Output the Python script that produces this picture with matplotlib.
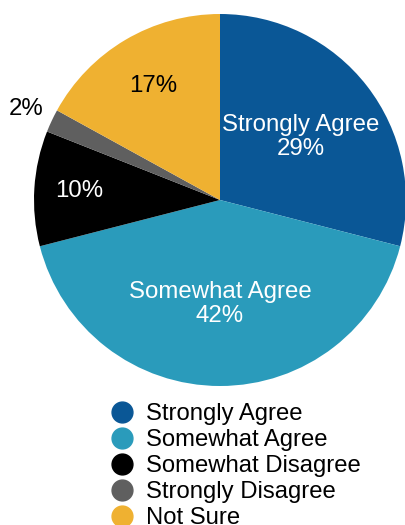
import numpy as np
import matplotlib.pyplot as plt
from matplotlib.lines import Line2D

plt.rcParams['font.family'] = ['Liberation Sans', 'DejaVu Sans']

categories = ['Strongly Agree', 'Somewhat Agree', 'Somewhat Disagree', 'Strongly Disagree', 'Not Sure']
shares = [29, 42, 10, 2, 17]
colors = ['#0a5796', '#2a9bbb', '#000000', '#5f5f5f', '#efb131']

# label placement per slice (fraction of radius) and whether the name is shown
label_dist = [0.55, 0.56, 0.76, 1.15, 0.71]
show_name = [True, True, False, False, False]
label_color = ['white', 'white', 'white', 'black', 'black']

fig = plt.figure(figsize=(4.06, 5.25), dpi=100)
ax = fig.add_axes([0, 0, 1, 1])

cx, cy, r = 220, 325, 186
wedges, _ = ax.pie(shares, colors=colors, startangle=90, counterclock=False,
                   center=(cx, cy), radius=r, frame=True,
                   wedgeprops=dict(linewidth=0))
ax.set_xlim(0, 406)
ax.set_ylim(0, 525)
ax.axis('off')

for w, name, val, d, sn, tc in zip(wedges, categories, shares, label_dist, show_name, label_color):
    mid = np.deg2rad((w.theta1 + w.theta2) / 2)
    x = cx + d * r * np.cos(mid)
    y = cy + d * r * np.sin(mid)
    txt = f'{name}\n{val}%' if sn else f'{val}%'
    ax.text(x, y, txt, ha='center', va='center', color=tc, fontsize=17.3,
            linespacing=1.12)

handles = [Line2D([0], [0], marker='o', linestyle='none', markersize=15,
                  markerfacecolor=c, markeredgecolor=c) for c in colors]
fig.legend(handles, categories, loc='upper left',
           bbox_to_anchor=(110.5 / 406, (525 - 403) / 525),
           frameon=False, fontsize=17.2, borderpad=0, borderaxespad=0,
           handlelength=0.96, handletextpad=0.52, labelspacing=0.17)

fig.savefig('out.png', dpi=100)
